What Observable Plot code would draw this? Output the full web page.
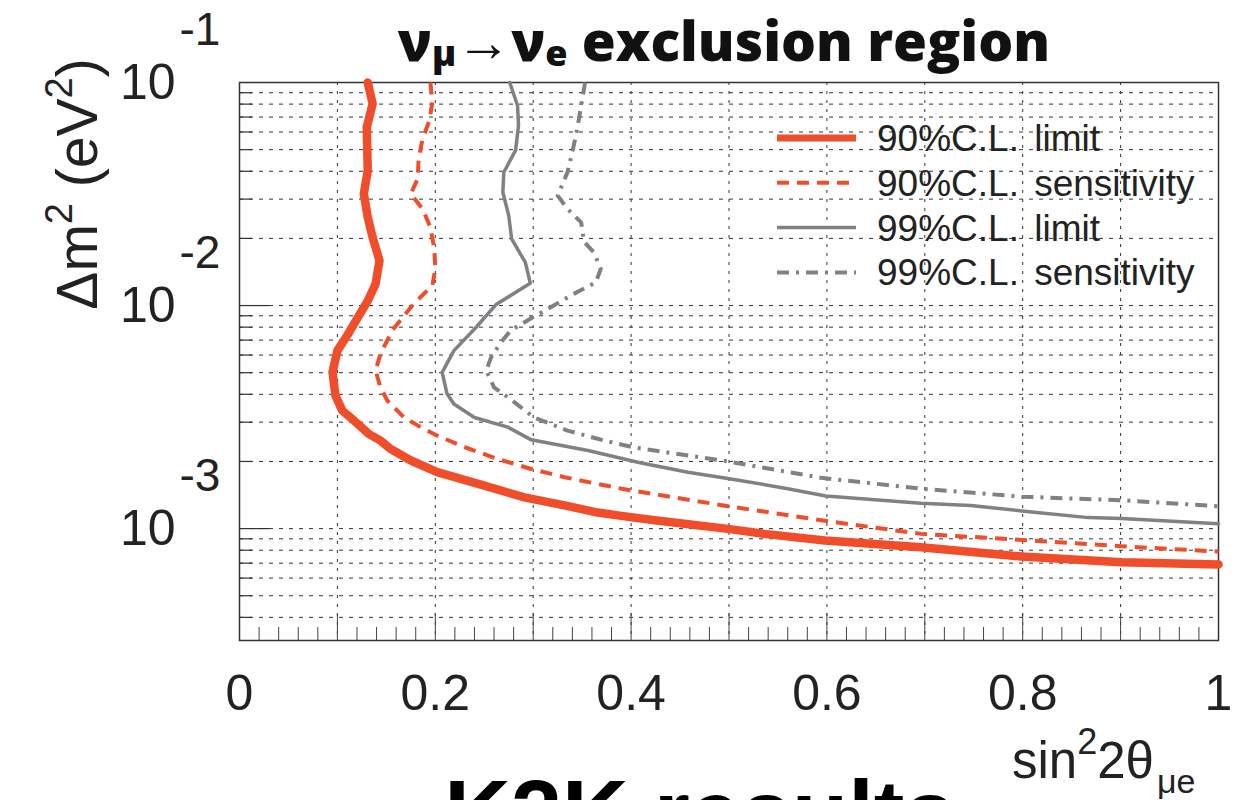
<!DOCTYPE html>
<html><head><meta charset="utf-8">
<script src="https://cdn.jsdelivr.net/npm/d3@7"></script>
<script src="https://cdn.jsdelivr.net/npm/@observablehq/plot@0.6"></script>
<style>
html,body{margin:0;padding:0;background:#fff;overflow:hidden}
#wrap{position:relative;width:1253px;height:800px;overflow:hidden;background:#fff}
#wrap svg{position:absolute;left:0;top:0}
</style></head><body><div id="wrap"></div>
<script>
// ---- data: [sin^2 2θ, Δm^2 (eV^2)] ----
const limit90 = [
  [0.131,0.1],[0.136,0.0803],[0.130,0.0630],[0.131,0.0403],[0.127,0.0317],[0.131,0.0249],
  [0.136,0.0202],[0.143,0.0159],[0.139,0.0125],[0.131,0.0105],[0.120,0.00872],[0.110,0.00734],
  [0.100,0.00628],[0.095,0.00502],[0.098,0.00395],[0.105,0.00338],[0.117,0.00305],[0.132,0.00266],
  [0.144,0.00248],[0.154,0.00228],[0.175,0.00202],[0.202,0.00179],[0.243,0.00159],[0.291,0.00138],
  [0.332,0.00127],[0.366,0.00118],[0.390,0.00114],[0.424,0.00109],[0.499,0.000997],[0.536,0.000947],
  [0.598,0.000884],[0.696,0.000825],[0.799,0.000749],[0.901,0.000706],[1.0,0.000690]
];
const sens90 = [
  [0.195,0.1],[0.197,0.0816],[0.194,0.0675],[0.187,0.0559],[0.183,0.0455],[0.182,0.0370],
  [0.175,0.0317],[0.187,0.0271],[0.195,0.0224],[0.199,0.0180],[0.200,0.0146],[0.197,0.0123],
  [0.178,0.0102],[0.156,0.00773],[0.144,0.00607],[0.139,0.00511],[0.144,0.00430],[0.151,0.00375],
  [0.168,0.00315],[0.185,0.00285],[0.202,0.00261],[0.231,0.00231],[0.264,0.00205],[0.298,0.00185],
  [0.332,0.00170],[0.390,0.00151],[0.499,0.00126],[0.594,0.00109],[0.696,0.000947],[0.799,0.000890],
  [0.901,0.000833],[1.0,0.000789]
];
const limit99 = [
  [0.276,0.1],[0.284,0.0789],[0.285,0.0642],[0.282,0.0496],[0.270,0.0396],[0.269,0.0322],
  [0.275,0.0253],[0.278,0.0199],[0.292,0.0156],[0.297,0.0126],[0.262,0.0101],[0.241,0.00793],
  [0.219,0.00628],[0.207,0.00502],[0.212,0.00402],[0.219,0.00362],[0.240,0.00315],[0.274,0.00285],
  [0.298,0.00250],[0.356,0.00224],[0.408,0.00198],[0.458,0.00179],[0.502,0.00167],[0.560,0.00151],
  [0.599,0.00140],[0.696,0.00130],[0.747,0.00127],[0.799,0.00120],[0.867,0.00112],[0.901,0.00111],
  [1.0,0.00105]
];
const sens99 = [
  [0.353,0.1],[0.349,0.0789],[0.345,0.0620],[0.340,0.0487],[0.335,0.0396],[0.325,0.0311],
  [0.335,0.0271],[0.349,0.0236],[0.352,0.0193],[0.362,0.0173],[0.369,0.0146],[0.364,0.0127],
  [0.345,0.0115],[0.321,0.0100],[0.301,0.00893],[0.277,0.00773],[0.267,0.00684],[0.257,0.00586],
  [0.252,0.00511],[0.260,0.00430],[0.274,0.00388],[0.301,0.00315],[0.335,0.00275],[0.373,0.00248],
  [0.403,0.00231],[0.499,0.00200],[0.594,0.00169],[0.696,0.00151],[0.799,0.00139],[0.901,0.00134],
  [1.0,0.00126]
];
const seriesNames = ["90%C.L. limit","90%C.L. sensitivity","99%C.L. limit","99%C.L. sensitivity"];
const xTickLabels = [0,0.2,0.4,0.6,0.8,1];
const yDecades = [1e-1,1e-2,1e-3];
const yExponents = ["-1","-2","-3"];

// ---- styles ----
const RED = "#f04e2b", GRAY = "#808086";
const series = [
  {name: seriesNames[0], data: limit90, stroke: RED,  width: 8.5, dash: null},
  {name: seriesNames[1], data: sens90,  stroke: RED,  width: 4,   dash: "12,8"},
  {name: seriesNames[2], data: limit99, stroke: GRAY, width: 3.5, dash: null},
  {name: seriesNames[3], data: sens99,  stroke: GRAY, width: 4,   dash: "12,7,3,7"}
];

const W = 1253, H = 800, mL = 239, mR = 35, mT = 82, mB = 160;
const plotW = W - mL - mR, plotH = H - mT - mB;
const yMin = 3.15e-4, yMax = 0.1;
const FONT = "'Liberation Sans', Arial, Helvetica, sans-serif";

// gridline / tick positions
const xGrid = d3.range(1, 10).map(i => i / 10);
const xMinor = d3.range(1, 50).map(i => i / 50).filter(v => Math.round(v * 50) % 5 !== 0);
const xMajor = d3.range(1, 10).map(i => i / 10);
const yGrid = [];
for (const dec of [1e-4, 1e-3, 1e-2]) for (let k = 1; k <= 9; k++) {
  const v = +(k * dec).toPrecision(3);
  if (v >= yMin && v < yMax) yGrid.push(v);
}
const yMinor = yGrid.filter(v => !yDecades.includes(v));
const yMajor = yDecades.filter(v => v < yMax);

const marks = [
  Plot.ruleX(xGrid, {x: d => d, stroke: "#333", strokeWidth: 1, strokeDasharray: "3,6"}),
  Plot.ruleY(yGrid, {y: d => d, stroke: "#333", strokeWidth: 1, strokeDasharray: "4,6"}),
  Plot.tickX(xMinor, {x: d => d, stroke: "#444", strokeWidth: 1, insetTop: plotH - 13}),
  Plot.tickX(xMajor, {x: d => d, stroke: "#444", strokeWidth: 1, insetTop: plotH - 27}),
  Plot.tickY(yMinor, {y: d => d, stroke: "#333", strokeWidth: 1.2, insetRight: plotW - 13}),
  Plot.tickY(yMajor, {y: d => d, stroke: "#333", strokeWidth: 1.2, insetRight: plotW - 30}),
  Plot.frame({stroke: "#333", strokeWidth: 1.5}),
  ...series.slice().reverse().map(s => Plot.line(s.data, {
    x: d => d[0], y: d => d[1], stroke: s.stroke, strokeWidth: s.width,
    strokeDasharray: s.dash, strokeLinejoin: "round", strokeLinecap: s.dash ? "butt" : "round"
  })),
  Plot.text(xTickLabels, {x: d => d, frameAnchor: "bottom", dy: 53, text: d => String(d),
    fontSize: 50, fontFamily: FONT, fill: "#222", lineAnchor: "middle", textAnchor: "middle"}),
  Plot.text(yDecades, {y: d => d, frameAnchor: "left", dx: -64, text: () => "10",
    fontSize: 50, fontFamily: FONT, fill: "#222", textAnchor: "end", lineAnchor: "middle"}),
  Plot.text(yDecades, {y: d => d, frameAnchor: "left", dx: -60, dy: -52,
    text: (d, i) => yExponents[i], fontSize: 46, fontFamily: FONT, fill: "#222",
    textAnchor: "start", lineAnchor: "middle"})
];

const chart = Plot.plot({
  width: W, height: H,
  marginLeft: mL, marginRight: mR, marginTop: mT, marginBottom: mB,
  x: {domain: [0, 1], axis: null},
  y: {type: "log", domain: [yMin, yMax], axis: null},
  style: {background: "white", overflow: "visible"},
  marks
});
const wrap = document.getElementById("wrap");
wrap.appendChild(chart);

// ---- overlay: title, axis titles, legend, footer ----
const ov = d3.select(wrap).append("svg")
  .attr("width", W).attr("height", H)
  .style("pointer-events", "none").style("overflow", "hidden");

// title
const t = ov.append("text").attr("x", 724).attr("y", 61).attr("text-anchor", "middle")
  .attr("font-family", "'Open Sans', sans-serif").attr("font-weight", 800)
  .attr("font-size", 55).attr("fill", "#111");
t.append("tspan").text("ν");
t.append("tspan").attr("font-size", 36).attr("dy", 5).text("μ");
t.append("tspan").attr("font-size", 55).attr("dy", -5).attr("font-weight", 700).text("→");
t.append("tspan").text("ν");
t.append("tspan").attr("font-size", 36).attr("dy", 5).text("e");
t.append("tspan").attr("dy", -5).text(" exclusion region");

// y-axis title
const yl = ov.append("text").attr("transform", "translate(97,184) rotate(-90)")
  .attr("text-anchor", "middle").attr("font-family", FONT).attr("font-size", 57).attr("fill", "#222");
yl.append("tspan").text("Δm");
yl.append("tspan").attr("font-size", 38).attr("dy", -25).text("2");
yl.append("tspan").attr("dy", 25).text(" (eV");
yl.append("tspan").attr("font-size", 38).attr("dy", -25).text("2");
yl.append("tspan").attr("dy", 25).text(")");

// x-axis title
const xl = ov.append("text").attr("x", 1012).attr("y", 778)
  .attr("font-family", FONT).attr("font-size", 51).attr("fill", "#222");
xl.append("tspan").text("sin");
xl.append("tspan").attr("font-size", 36).attr("dy", -24).text("2");
xl.append("tspan").attr("dy", 24).text("2θ");
xl.append("tspan").attr("font-size", 34).attr("dy", 15).attr("dx", 3).text("μe");

// legend
series.forEach((s, i) => {
  const y = 138 + i * 44.8;
  ov.append("line").attr("x1", 777).attr("x2", 856).attr("y1", y).attr("y2", y)
    .attr("stroke", s.stroke).attr("stroke-width", s.width === 8.5 ? 7 : s.width)
    .attr("stroke-dasharray", s.dash);
  ov.append("text").attr("x", 877).attr("y", y + 13).attr("font-family", FONT)
    .attr("font-size", 37).attr("word-spacing", 5).attr("fill", "#222").text(s.name);
});

// footer (cut off at the bottom edge, as in the original)
ov.append("text").attr("x", 700).attr("y", 845).attr("text-anchor", "middle")
  .attr("font-family", FONT).attr("font-weight", 900).attr("font-size", 92).attr("fill", "#000")
  .text("K2K results");
</script>
</body></html>
